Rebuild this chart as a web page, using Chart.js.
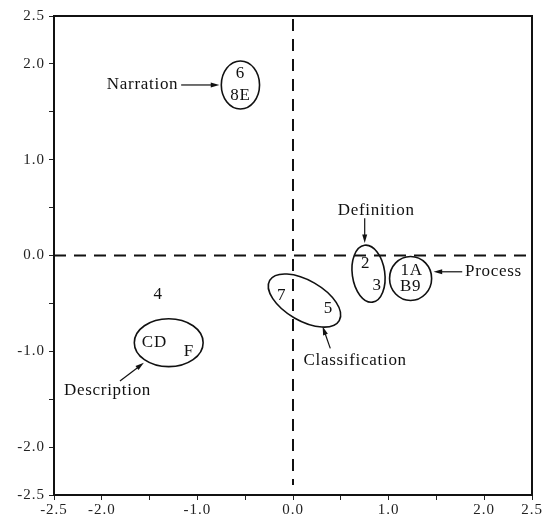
<!DOCTYPE html>
<html>
<head>
<meta charset="utf-8">
<script src="https://cdn.jsdelivr.net/npm/chart.js@4/dist/chart.umd.min.js"></script>
<style>
  body { margin: 0; background: #fff; }
  canvas { display: block; }
</style>
</head>
<body>
<canvas id="mdsChart" width="545" height="523"></canvas>
<script>
// point labels and their coordinates on the two dimensions
const pointLabels = ['6', '8E', '4', 'CD', 'F', '7', '5', '2', '3', '1A', 'B9'];
const dim1 = [-0.55, -0.55, -1.41, -1.45, -1.09, -0.12, 0.37, 0.76, 0.88, 1.24, 1.23];
const dim2 = [1.90, 1.67, -0.41, -0.91, -1.00, -0.42, -0.55, -0.08, -0.31, -0.16, -0.32];

// tick values that carry a text label (ticks every 0.5)
const xTickLabels = [-2.5, -2.0, -1.0, 0.0, 1.0, 2.0, 2.5];
const yTickLabels = [-2.5, -2.0, -1.0, 0.0, 1.0, 2.0, 2.5];

// groups drawn as ellipses (data units)
const groupNames = ['Narration', 'Description', 'Classification', 'Definition', 'Process'];
const groupCx = [-0.55, -1.30, 0.12, 0.79, 1.23];
const groupCy = [1.78, -0.91, -0.47, -0.19, -0.24];
const groupRx = [0.20, 0.36, 0.42, 0.17, 0.22];
const groupRy = [0.25, 0.25, 0.21, 0.30, 0.23];
const groupAngle = [0, 0, 30, -8, 0];

// group captions and arrows (data units)
const captionX = [-1.20, -1.94, 0.65, 0.87, 1.80];
const captionY = [1.78, -1.41, -1.10, 0.47, -0.17];
const captionAlign = ['right', 'center', 'center', 'center', 'left'];
const arrowFrom = [[-1.17, 1.78], [-1.81, -1.31], [0.39, -0.97], [0.75, 0.39], [1.77, -0.17]];
const arrowTo = [[-0.77, 1.78], [-1.56, -1.12], [0.31, -0.74], [0.75, 0.13], [1.47, -0.17]];

const serif = '"Liberation Serif", "DejaVu Serif", serif';

const drawArrow = (ctx, x1, y1, x2, y2) => {
    const ang = Math.atan2(y2 - y1, x2 - x1);
    const head = 9;
    ctx.beginPath();
    ctx.moveTo(x1, y1);
    ctx.lineTo(x2 - Math.cos(ang) * head * 0.8, y2 - Math.sin(ang) * head * 0.8);
    ctx.stroke();
    ctx.beginPath();
    ctx.moveTo(x2, y2);
    ctx.lineTo(x2 - head * Math.cos(ang - 0.28), y2 - head * Math.sin(ang - 0.28));
    ctx.lineTo(x2 - head * Math.cos(ang + 0.28), y2 - head * Math.sin(ang + 0.28));
    ctx.closePath();
    ctx.fill();
};

const mdsPlugin = {
    id: 'mdsPlugin',
    beforeDraw(chart) {
        // the scanned type is set a little loose
        chart.ctx.letterSpacing = '1px';
    },
    beforeDatasetsDraw(chart) {
        const {ctx, chartArea, scales} = chart;
        const xs = scales.x, ys = scales.y;
        ctx.save();
        // frame
        ctx.strokeStyle = '#111';
        ctx.lineWidth = 2;
        ctx.strokeRect(chartArea.left, chartArea.top, chartArea.right - chartArea.left, chartArea.bottom - chartArea.top);
        // dashed zero lines
        ctx.setLineDash([12, 8]);
        ctx.beginPath();
        ctx.moveTo(chartArea.left, ys.getPixelForValue(0));
        ctx.lineTo(chartArea.right, ys.getPixelForValue(0));
        ctx.moveTo(xs.getPixelForValue(0), chartArea.top + 3);
        ctx.lineTo(xs.getPixelForValue(0), chartArea.bottom - 10);
        ctx.stroke();
        ctx.restore();
    },
    afterDatasetsDraw(chart) {
        const {ctx, scales} = chart;
        const xs = scales.x, ys = scales.y;
        const unitX = xs.getPixelForValue(1) - xs.getPixelForValue(0);
        const unitY = ys.getPixelForValue(0) - ys.getPixelForValue(1);
        ctx.save();
        ctx.fillStyle = '#111';
        ctx.strokeStyle = '#111';
        ctx.letterSpacing = '0.7px';

        // point labels
        ctx.font = '17px ' + serif;
        ctx.textAlign = 'center';
        ctx.textBaseline = 'middle';
        chart.getDatasetMeta(0).data.forEach((pt, i) => {
            ctx.fillText(pointLabels[i], pt.x, pt.y);
        });

        // group ellipses
        ctx.lineWidth = 1.6;
        groupNames.forEach((name, i) => {
            ctx.beginPath();
            ctx.ellipse(xs.getPixelForValue(groupCx[i]), ys.getPixelForValue(groupCy[i]),
                groupRx[i] * unitX, groupRy[i] * unitY, groupAngle[i] * Math.PI / 180, 0, Math.PI * 2);
            ctx.stroke();
        });

        // captions and arrows
        ctx.font = '17px ' + serif;
        ctx.lineWidth = 1.2;
        groupNames.forEach((name, i) => {
            ctx.textAlign = captionAlign[i];
            ctx.fillText(name, xs.getPixelForValue(captionX[i]), ys.getPixelForValue(captionY[i]));
            drawArrow(ctx,
                xs.getPixelForValue(arrowFrom[i][0]), ys.getPixelForValue(arrowFrom[i][1]),
                xs.getPixelForValue(arrowTo[i][0]), ys.getPixelForValue(arrowTo[i][1]));
        });
        ctx.restore();
    }
};

const tickLabel = (list) => function (value) {
    const v = Math.round(value * 10) / 10;
    return list.includes(v) ? v.toFixed(1) : '';
};

new Chart(document.getElementById('mdsChart'), {
    type: 'scatter',
    data: {
        datasets: [{
            data: dim1.map((x, i) => ({x: x, y: dim2[i]})),
            pointRadius: 0,
            pointHoverRadius: 0
        }]
    },
    options: {
        responsive: false,
        animation: false,
        events: [],
        layout: {padding: {top: 16, right: 13, left: 0, bottom: 0}},
        plugins: {legend: {display: false}, tooltip: {enabled: false}},
        scales: {
            x: {
                type: 'linear',
                min: -2.5,
                max: 2.5,
                afterFit: (scale) => { scale.height = 28; },
                ticks: {
                    stepSize: 0.5,
                    autoSkip: false,
                    maxRotation: 0,
                    padding: 1,
                    color: '#222',
                    font: {family: serif, size: 15},
                    callback: tickLabel(xTickLabels)
                },
                grid: {drawOnChartArea: false, drawTicks: true, tickLength: 5, color: '#222'},
                border: {color: '#111', width: 2}
            },
            y: {
                type: 'linear',
                min: -2.5,
                max: 2.5,
                afterFit: (scale) => { scale.width = 54; },
                ticks: {
                    stepSize: 0.5,
                    autoSkip: false,
                    padding: 4,
                    color: '#222',
                    font: {family: serif, size: 15},
                    callback: tickLabel(yTickLabels)
                },
                grid: {drawOnChartArea: false, drawTicks: true, tickLength: 5, color: '#222'},
                border: {color: '#111', width: 2}
            }
        }
    },
    plugins: [mdsPlugin]
});
</script>
</body>
</html>
